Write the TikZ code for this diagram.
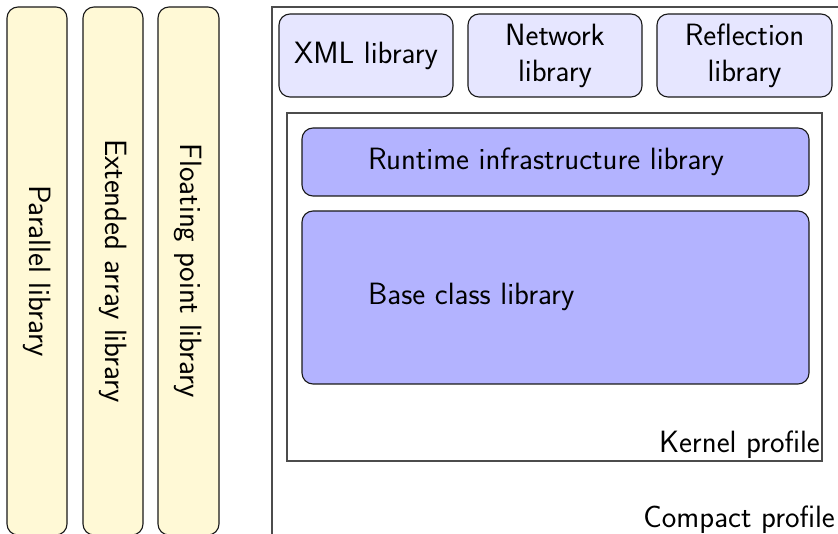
\documentclass[tikz,border=0pt]{standalone}
\usepackage{tikz}
\definecolor{yel}{HTML}{FFF9D6}
\definecolor{lightb}{HTML}{E6E6FF}
\definecolor{midb}{HTML}{B3B3FF}
\begin{document}
\begin{tikzpicture}[x=1pt,y=-1pt,
  font=\sffamily\fontsize{30.8}{36}\selectfont,
  box/.style={draw=black!90,line width=1.1pt,rounded corners=11pt,inner sep=0pt},
  vbox/.style={box,fill=yel},
  topbox/.style={box,fill=lightb,align=center},
  basebox/.style={box,fill=midb},
  frame/.style={draw=black!70,line width=1.1pt}]
\clip (0,0) rectangle (838,534);
\useasboundingbox (0,0) rectangle (838,534);
% left vertical boxes
\node[vbox,minimum width=60pt,minimum height=528pt] (par) at (37,271) {};
\node[rotate=-90] (partxt) at (par.center) {Parallel library};
\node[vbox,minimum width=60pt,minimum height=528pt] (ext) at (113,271) {};
\node[rotate=-90] (exttxt) at (ext.center) {Extended array library};
\node[vbox,minimum width=61pt,minimum height=528pt] (flo) at (188.5,271) {};
\node[rotate=-90] (flotxt) at (flo.center) {Floating point library};
% compact profile frame
\draw[frame] (272,560) -- (272,7) -- (850,7);
\node[anchor=base east,inner sep=0pt] (compact) at (835,527) {Compact profile};
% top boxes
\node[topbox,minimum width=174pt,minimum height=83pt] (xml) at (366,55.5) {XML library};
\node[topbox,minimum width=174pt,minimum height=83pt] (net) at (555,55.5) {Network\\library};
\node[topbox,minimum width=175pt,minimum height=83pt] (ref) at (744.5,55.5) {Reflection\\library};
% kernel profile
\draw[frame] (287,113) rectangle (822,461);
\node[anchor=base east,inner sep=0pt] (kernel) at (820,452) {Kernel profile};
% runtime & base
\node[basebox,minimum width=507pt,minimum height=68pt] (rt) at (555.5,162) {};
\node[anchor=west,inner sep=0pt] (rttxt) at (368,162) {Runtime infrastructure library};
\node[basebox,minimum width=507pt,minimum height=173pt] (bc) at (555.5,297.5) {};
\node[anchor=west,inner sep=0pt] (bctxt) at (368,297) {Base class library};
\end{tikzpicture}
\end{document}
